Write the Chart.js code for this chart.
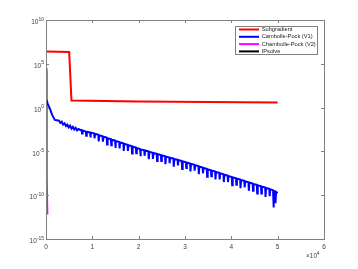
<!DOCTYPE html>
<html lang="en">
<head>
<meta charset="UTF-8">
<title>Convergence</title>
<script src="https://cdn.jsdelivr.net/npm/chart.js@4"></script>
<style>
    html, body { margin: 0; padding: 0; background: #fff; }
</style>
</head>
<body>
<canvas id="chart" width="358" height="269"></canvas>
<script>
// legend names and colours
var seriesNames  = ['Subgradient', 'Cambolle-Pock (V1)', 'Chambolle-Pock (V2)', 'IPsolve'];
var seriesColors = ['#ff0000', '#0000ff', '#ff00ff', '#000000'];

// axis ticks
var xTicks   = [0, 10000, 20000, 30000, 40000, 50000, 60000];
var yTickExp = [-15, -10, -5, 0, 5, 10];

// [iteration, log10(value)]
var subgradient = [[0, 6.4], [5000, 6.35], [5500, 0.8], [20000, 0.7], [35000, 0.63], [50000, 0.57]];

var cpV1 = [
    [100, 0.88], [400, 0.4], [800, -0.07], [1300, -0.8], [1900, -1.4], [2400, -1.45], [2800, -1.5],
    [3100, -1.75], [3400, -1.6], [3700, -1.95], [4000, -1.8], [4300, -2.1], [4600, -1.95],
    [4900, -2.25], [5200, -2.05], [5500, -2.4], [5800, -2.2], [6100, -2.5], [6400, -2.3],
    [6700, -2.6],
    [7000, -2.45], [7700, -2.62], [7780, -2.95],
    [7900, -2.6], [8600, -2.75], [8680, -3.2],
    [8800, -2.75], [9500, -2.85], [9580, -3.4],
    [9700, -2.85], [10400, -2.95], [10480, -3.5],
    [10600, -3.0], [11300, -3.1], [11380, -3.85],
    [11500, -3.17], [12200, -3.27], [12280, -3.9],
    [12400, -3.33], [13100, -3.43], [13180, -4.2],
    [13300, -3.5], [14000, -3.6], [14080, -4.3],
    [14200, -3.66], [14900, -3.76], [14980, -4.6],
    [15100, -3.82], [15800, -3.93], [15880, -4.65],
    [16000, -3.98], [16700, -4.08], [16780, -4.95],
    [16900, -4.14], [17600, -4.25], [17680, -4.95],
    [17800, -4.3], [18500, -4.4], [18580, -5.25],
    [18700, -4.46], [19400, -4.57], [19480, -5.2],
    [19600, -4.62], [20300, -4.72], [20380, -5.55],
    [20500, -4.77], [21200, -4.88], [21280, -5.5],
    [21400, -4.9], [22100, -5.0], [22180, -5.9],
    [22300, -5.04], [23000, -5.15], [23080, -5.85],
    [23200, -5.18], [23900, -5.28], [23980, -6.1],
    [24100, -5.31], [24800, -5.42], [24880, -6.1],
    [25000, -5.45], [25700, -5.55], [25780, -6.45],
    [25900, -5.58], [26600, -5.69], [26680, -6.35],
    [26800, -5.72], [27500, -5.82], [27580, -6.75],
    [27700, -5.86], [28400, -5.96], [28480, -6.6],
    [28600, -5.99], [29300, -6.1], [29380, -7.0],
    [29500, -6.13], [30200, -6.23], [30280, -6.9],
    [30400, -6.27], [31100, -6.38], [31180, -7.3],
    [31300, -6.42], [32000, -6.52], [32080, -7.2],
    [32200, -6.58], [32900, -6.68], [32980, -7.6],
    [33100, -6.73], [33800, -6.84], [33880, -7.5],
    [34000, -6.89], [34700, -6.99], [34780, -7.9],
    [34900, -7.04], [35600, -7.15], [35680, -7.85],
    [35800, -7.19], [36500, -7.3], [36580, -8.2],
    [36700, -7.35], [37400, -7.45], [37480, -8.2],
    [37600, -7.5], [38300, -7.6], [38380, -8.5],
    [38500, -7.66], [39200, -7.76], [39280, -8.5],
    [39400, -7.81], [40100, -7.92], [40180, -8.85],
    [40300, -7.95], [41000, -8.06], [41080, -8.8],
    [41200, -8.1], [41900, -8.2], [41980, -9.2],
    [42100, -8.26], [42800, -8.36], [42880, -9.1],
    [43000, -8.41], [43700, -8.52], [43780, -9.5],
    [43900, -8.56], [44600, -8.66], [44680, -9.5],
    [44800, -8.72], [45500, -8.82], [45580, -9.8],
    [45700, -8.87], [46400, -8.97], [46480, -9.8],
    [46600, -9.02], [47300, -9.12], [47380, -10.2],
    [47500, -9.18], [48200, -9.28], [48280, -10.1],
    [48400, -9.33], [49000, -9.43], [49080, -11.4],
    [49200, -9.5], [49450, -9.58], [49530, -10.9],
    [49650, -9.62], [50000, -9.75]
];

var cpV2    = [[0, 4.5], [100, -2], [200, -8], [300, -12.2]];
var ipsolve = [[0, 4.1], [20, 0], [40, -5], [60, -10]];

function toPoints(arr) {
    return arr.map(function (p) { return {x: p[0], y: Math.pow(10, p[1])}; });
}

var FONT = 'Liberation Sans, Arial, sans-serif';
var AXIS = '#808080';
var LABEL = '#404040';

// MATLAB-like box, inward ticks, tick labels with superscripts, legend
var matlabBox = {
    id: 'matlabBox',
    afterDraw: function (chart) {
        var c = chart.ctx, a = chart.chartArea;
        var xs = chart.scales.x, ys = chart.scales.y;
        c.save();
        c.strokeStyle = AXIS;
        c.lineWidth = 1;
        c.strokeRect(Math.round(a.left) + 0.5, Math.round(a.top) + 0.5,
            Math.round(a.right - a.left), Math.round(a.bottom - a.top));
        c.beginPath();
        xTicks.forEach(function (v) {
            var px = Math.round(xs.getPixelForValue(v)) + 0.5;
            c.moveTo(px, a.bottom); c.lineTo(px, a.bottom - 3);
            c.moveTo(px, a.top); c.lineTo(px, a.top + 3);
        });
        yTickExp.forEach(function (e) {
            var py = Math.round(ys.getPixelForValue(Math.pow(10, e))) + 0.5;
            c.moveTo(a.left, py); c.lineTo(a.left + 3, py);
            c.moveTo(a.right, py); c.lineTo(a.right - 3, py);
        });
        c.stroke();

        c.fillStyle = LABEL;
        c.textBaseline = 'alphabetic';

        // x tick labels
        c.font = '6.5px ' + FONT;
        c.textAlign = 'center';
        xTicks.forEach(function (v) {
            c.fillText(String(v / 10000), xs.getPixelForValue(v), a.bottom + 9.5);
        });

        // y tick labels: 10^e
        yTickExp.forEach(function (e) {
            var py = ys.getPixelForValue(Math.pow(10, e));
            c.font = '5px ' + FONT;
            var ew = c.measureText(String(e)).width;
            c.textAlign = 'left';
            c.fillText(String(e), 44 - ew, py + 0.5);
            c.font = '6.5px ' + FONT;
            c.textAlign = 'right';
            c.fillText('10', 44 - ew, py + 4.2);
        });

        // x multiplier
        c.font = '6.5px ' + FONT;
        c.textAlign = 'left';
        c.fillText('\u00D710', 306, 258);
        c.font = '5px ' + FONT;
        c.fillText('4', 316.8, 254.5);

        // legend
        var lx = 235.5, ly = 26.5, lw = 82, lh = 28;
        c.fillStyle = '#fff';
        c.fillRect(lx, ly, lw, lh);
        c.strokeStyle = AXIS;
        c.strokeRect(lx, ly, lw, lh);
        c.font = '5.7px ' + FONT;
        c.textAlign = 'left';
        c.textBaseline = 'middle';
        seriesNames.forEach(function (name, i) {
            var ry = 29.5 + i * 7.3;
            c.strokeStyle = seriesColors[i];
            c.lineWidth = 2;
            c.beginPath();
            c.moveTo(239, ry); c.lineTo(259, ry);
            c.stroke();
            c.fillStyle = '#1a1a1a';
            c.fillText(name, 261.7, ry);
        });
        c.restore();
    }
};

var allSeries = [subgradient, cpV1, cpV2, ipsolve];
var ctx = document.getElementById('chart').getContext('2d');
var theChart = new Chart(ctx, {
    type: 'line',
    data: {
        datasets: allSeries.map(function (s, i) {
            return {
                label: seriesNames[i],
                data: toPoints(s),
                borderColor: seriesColors[i],
                borderWidth: 2,
                pointRadius: 0,
                tension: 0,
                fill: false
            };
        })
    },
    options: {
        responsive: false,
        animation: false,
        layout: { padding: { left: 0, right: 34, top: 20, bottom: 0 } },
        plugins: { legend: { display: false }, tooltip: { enabled: false } },
        scales: {
            x: {
                type: 'linear', min: 0, max: 60000,
                afterBuildTicks: function (scale) {
                    scale.ticks = xTicks.map(function (v) { return {value: v}; });
                },
                afterFit: function (scale) { scale.height = 30; },
                grid: { display: false },
                border: { display: false },
                ticks: { display: false }
            },
            y: {
                type: 'logarithmic', min: 1e-15, max: 1e10,
                afterBuildTicks: function (scale) {
                    scale.ticks = yTickExp.map(function (e) { return {value: Math.pow(10, e)}; });
                },
                afterFit: function (scale) { scale.width = 46; },
                grid: { display: false },
                border: { display: false },
                ticks: { display: false }
            }
        }
    },
    plugins: [matlabBox]
});
</script>
</body>
</html>
